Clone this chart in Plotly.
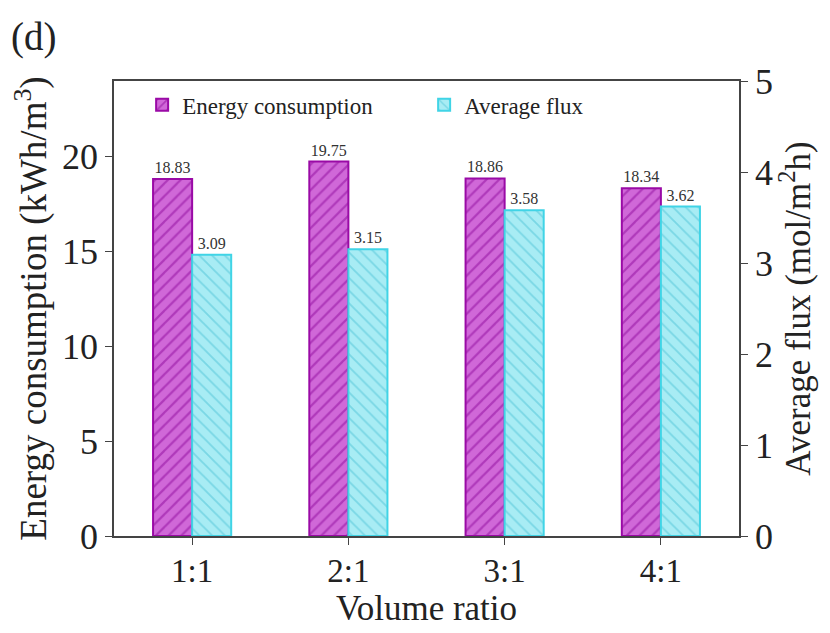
import plotly.graph_objects as go

categories = ["1:1", "2:1", "3:1", "4:1"]
energy = [18.83, 19.75, 18.86, 18.34]
flux = [3.09, 3.15, 3.58, 3.62]

FONT = "Liberation Serif"
INK = "#222222"

fig = go.Figure()
fig.add_trace(go.Bar(
    x=categories, y=energy, name="Energy consumption",
    offsetgroup="1", yaxis="y",
    marker=dict(color="#d068d8", line=dict(color="#9a0aa6", width=2),
                pattern=dict(shape="/", fgcolor="#8e0a9c", size=9, solidity=0.25)),
    text=[f"{v:.2f}" for v in energy], textposition="outside",
    textfont=dict(family=FONT, size=16, color="#333333"), cliponaxis=False,
))
fig.add_trace(go.Bar(
    x=categories, y=flux, name="Average flux",
    offsetgroup="2", yaxis="y2",
    marker=dict(color="#a8ecf4", line=dict(color="#40d4e6", width=2),
                pattern=dict(shape="\\", fgcolor="#4cc2d6", size=9, solidity=0.2)),
    text=[f"{v:.2f}" for v in flux], textposition="outside",
    textfont=dict(family=FONT, size=16, color="#333333"), cliponaxis=False,
))

fig.update_layout(
    width=830, height=633,
    margin=dict(l=114, r=91, t=81, b=97, autoexpand=False),
    paper_bgcolor="white", plot_bgcolor="white",
    font=dict(family=FONT, color=INK),
    barmode="group", bargap=0.5, bargroupgap=0,
    showlegend=True,
    legend=dict(orientation="h", x=0.045, y=0.995, xanchor="left", yanchor="top",
                font=dict(family=FONT, size=23, color=INK),
                entrywidth=237, entrywidthmode="pixels",
                bgcolor="rgba(0,0,0,0)", traceorder="normal"),
    xaxis=dict(
        title=dict(text="Volume ratio", font=dict(family=FONT, size=35), standoff=2),
        tickfont=dict(family=FONT, size=33, color=INK),
        ticklabelstandoff=-2,
        showline=True, linecolor="#444444", linewidth=1.5, mirror=True,
        ticks="outside", ticklen=7, tickcolor="#444444",
        showgrid=False, range=[-0.5, 3.5], automargin=False,
    ),
    yaxis=dict(
        title=dict(text="Energy consumption (kWh/m<sup>3</sup>)", font=dict(family=FONT, size=37), standoff=4),
        tickfont=dict(family=FONT, size=36, color=INK),
        range=[0, 24], tickvals=[0, 5, 10, 15, 20],
        showline=True, linecolor="#444444", linewidth=1.5,
        ticks="outside", ticklen=7, tickcolor="#444444",
        showgrid=False, zeroline=False, automargin=False,
    ),
    yaxis2=dict(
        title=dict(text="Average flux (mol/m<sup>2</sup>h)", font=dict(family=FONT, size=35), standoff=6),
        tickfont=dict(family=FONT, size=36, color=INK),
        overlaying="y", side="right",
        range=[0, 5], tickvals=[0, 1, 2, 3, 4, 5],
        showline=True, linecolor="#444444", linewidth=1.5,
        ticks="outside", ticklen=7, tickcolor="#444444",
        showgrid=False, zeroline=False, automargin=False,
    ),
    annotations=[dict(text="(d)", xref="paper", yref="paper",
                      x=-0.168, y=1.15, xanchor="left", yanchor="top",
                      showarrow=False,
                      font=dict(family=FONT, size=39, color=INK))],
)

fig.write_html("out.html")
